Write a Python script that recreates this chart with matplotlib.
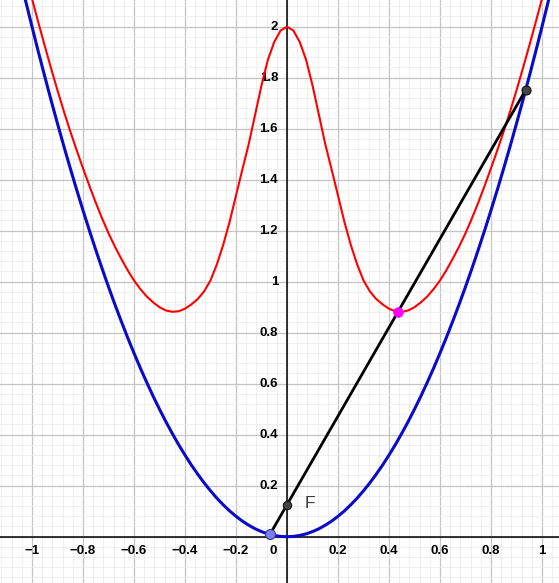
import numpy as np
import matplotlib
matplotlib.use("Agg")
from matplotlib import pyplot as plt
from matplotlib.ticker import MultipleLocator

# blue parabola
blue_x = [-1.15, -1.125, -1.1, -1.075, -1.05, -1.025, -1.0, -0.975, -0.95, -0.925, -0.9,
          -0.875, -0.85, -0.825, -0.8, -0.775, -0.75, -0.725, -0.7, -0.675, -0.65, -0.625,
          -0.6, -0.575, -0.55, -0.525, -0.5, -0.475, -0.45, -0.425, -0.4, -0.375, -0.35,
          -0.325, -0.3, -0.275, -0.25, -0.225, -0.2, -0.175, -0.15, -0.125, -0.1, -0.075,
          -0.05, -0.025, 0.0, 0.025, 0.05, 0.075, 0.1, 0.125, 0.15, 0.175, 0.2, 0.225,
          0.25, 0.275, 0.3, 0.325, 0.35, 0.375, 0.4, 0.425, 0.45, 0.475, 0.5, 0.525, 0.55,
          0.575, 0.6, 0.625, 0.65, 0.675, 0.7, 0.725, 0.75, 0.775, 0.8, 0.825, 0.85, 0.875,
          0.9, 0.925, 0.95, 0.975, 1.0, 1.025, 1.05, 1.075, 1.1, 1.125, 1.15]
blue_y = [2.645, 2.531, 2.42, 2.311, 2.205, 2.101, 2.0, 1.901, 1.805, 1.711, 1.62,
          1.531, 1.445, 1.361, 1.28, 1.201, 1.125, 1.051, 0.98, 0.911, 0.845, 0.781,
          0.72, 0.661, 0.605, 0.551, 0.5, 0.451, 0.405, 0.361, 0.32, 0.281, 0.245,
          0.211, 0.18, 0.151, 0.125, 0.101, 0.08, 0.061, 0.045, 0.031, 0.02, 0.011,
          0.005, 0.001, 0.0, 0.001, 0.005, 0.011, 0.02, 0.031, 0.045, 0.061, 0.08, 0.101,
          0.125, 0.151, 0.18, 0.211, 0.245, 0.281, 0.32, 0.361, 0.405, 0.451, 0.5, 0.551, 0.605,
          0.661, 0.72, 0.781, 0.845, 0.911, 0.98, 1.051, 1.125, 1.201, 1.28, 1.361, 1.445, 1.531,
          1.62, 1.711, 1.805, 1.901, 2.0, 2.101, 2.205, 2.311, 2.42, 2.531, 2.645]

# red curve
red_x = [-1.15, -1.125, -1.1, -1.075, -1.05, -1.025, -1.0, -0.975, -0.95, -0.925, -0.9,
         -0.875, -0.85, -0.825, -0.8, -0.775, -0.75, -0.725, -0.7, -0.675, -0.65, -0.625,
         -0.6, -0.575, -0.55, -0.525, -0.5, -0.475, -0.45, -0.425, -0.4, -0.375, -0.35,
         -0.325, -0.3, -0.275, -0.25, -0.225, -0.2, -0.175, -0.15, -0.125, -0.1, -0.075,
         -0.05, -0.025, 0.0, 0.025, 0.05, 0.075, 0.1, 0.125, 0.15, 0.175, 0.2, 0.225,
         0.25, 0.275, 0.3, 0.325, 0.35, 0.375, 0.4, 0.425, 0.45, 0.475, 0.5, 0.525, 0.55,
         0.575, 0.6, 0.625, 0.65, 0.675, 0.7, 0.725, 0.75, 0.775, 0.8, 0.825, 0.85, 0.875,
         0.9, 0.925, 0.95, 0.975, 1.0, 1.025, 1.05, 1.075, 1.1, 1.125, 1.15]
red_y = [2.74, 2.628, 2.52, 2.413, 2.31, 2.208, 2.11, 2.016, 1.925, 1.836, 1.75,
         1.668, 1.59, 1.516, 1.445, 1.376, 1.31, 1.248, 1.19, 1.138, 1.09, 1.045,
         1.005, 0.971, 0.942, 0.919, 0.9, 0.887, 0.882, 0.884, 0.894, 0.911, 0.932,
         0.962, 1.005, 1.068, 1.145, 1.235, 1.338, 1.44, 1.54, 1.655, 1.77, 1.87,
         1.94, 1.985, 2.0, 1.985, 1.94, 1.87, 1.77, 1.655, 1.54, 1.44, 1.338, 1.235,
         1.145, 1.068, 1.005, 0.962, 0.932, 0.911, 0.894, 0.884, 0.882, 0.887, 0.9, 0.919, 0.942,
         0.971, 1.005, 1.045, 1.09, 1.138, 1.19, 1.248, 1.31, 1.376, 1.445, 1.516, 1.59, 1.668,
         1.75, 1.836, 1.925, 2.016, 2.11, 2.208, 2.31, 2.413, 2.52, 2.628, 2.74]

# points
pt_a = (-0.067, 0.009)   # blue point on parabola
pt_f = (0.0, 0.125)      # F
pt_b = (0.936, 1.752)    # black point on parabola
pt_m = (0.4345, 0.8805)  # magenta point

x_tick_vals = [-1.0, -0.8, -0.6, -0.4, -0.2, 0.2, 0.4, 0.6, 0.8, 1.0]
x_tick_text = ["\u22121", "\u22120.8", "\u22120.6", "\u22120.4", "\u22120.2",
               "0.2", "0.4", "0.6", "0.8", "1"]
y_tick_vals = [0.2, 0.4, 0.6, 0.8, 1.0, 1.2, 1.4, 1.6, 1.8, 2.0]
y_tick_text = ["0.2", "0.4", "0.6", "0.8", "1", "1.2", "1.4", "1.6", "1.8", "2"]

fig = plt.figure(figsize=(5.59, 5.83), dpi=100)
ax = fig.add_axes([0, 0, 1, 1])
ax.set_xlim(-1.1255, 1.0667)
ax.set_ylim(-0.1816, 2.1047)

# grid
ax.xaxis.set_major_locator(MultipleLocator(0.2))
ax.yaxis.set_major_locator(MultipleLocator(0.2))
ax.xaxis.set_minor_locator(MultipleLocator(0.04))
ax.yaxis.set_minor_locator(MultipleLocator(0.04))
ax.grid(True, which="minor", color="#ececec", linewidth=0.6)
ax.grid(True, which="major", color="#c4c4c4", linewidth=0.9)
ax.set_axisbelow(True)
ax.tick_params(which="both", length=0, labelbottom=False, labelleft=False)
for s in ax.spines.values():
    s.set_visible(False)

# axes
ax.axhline(0, color="black", linewidth=1.1, zorder=2)
ax.axvline(0, color="black", linewidth=1.1, zorder=2)

font = dict(family=["Liberation Sans", "DejaVu Sans"], fontsize=9.5, fontweight="bold")
for v, t in zip(x_tick_vals, x_tick_text):
    ax.text(v, -0.055, t, ha="center", va="center", **font)
for v, t in zip(y_tick_vals, y_tick_text):
    ax.text(-0.035, v, t, ha="right", va="center", **font)
ax.text(-0.055, -0.055, "0", ha="center", va="center", **font)

# curves
ax.plot(blue_x, blue_y, color="#0a0acc", linewidth=2.2, zorder=3,
        solid_joinstyle="round")
ax.plot(red_x, red_y, color="#ff0000", linewidth=1.5, zorder=3,
        solid_joinstyle="round")
ax.plot([pt_a[0], pt_b[0]], [pt_a[1], pt_b[1]], color="black", linewidth=2.0, zorder=4)

ax.plot(*pt_a, "o", ms=7.2, mfc="#7b7bff", mec="#3c3c6c", mew=0.8, zorder=5)
ax.plot(*pt_f, "o", ms=6, mfc="#444444", mec="#111111", mew=0.8, zorder=5)
ax.plot(*pt_b, "o", ms=6.5, mfc="#444444", mec="#111111", mew=0.8, zorder=5)
ax.plot(*pt_m, "o", ms=7, mfc="#ff00ff", mec="#ff00ff", mew=0.5, zorder=5)
ax.text(0.07, 0.132, "F", ha="left", va="center", color="#3a3a3a",
        family=["Liberation Sans", "DejaVu Sans"], fontsize=12.5)

fig.savefig("out.png", dpi=100)
